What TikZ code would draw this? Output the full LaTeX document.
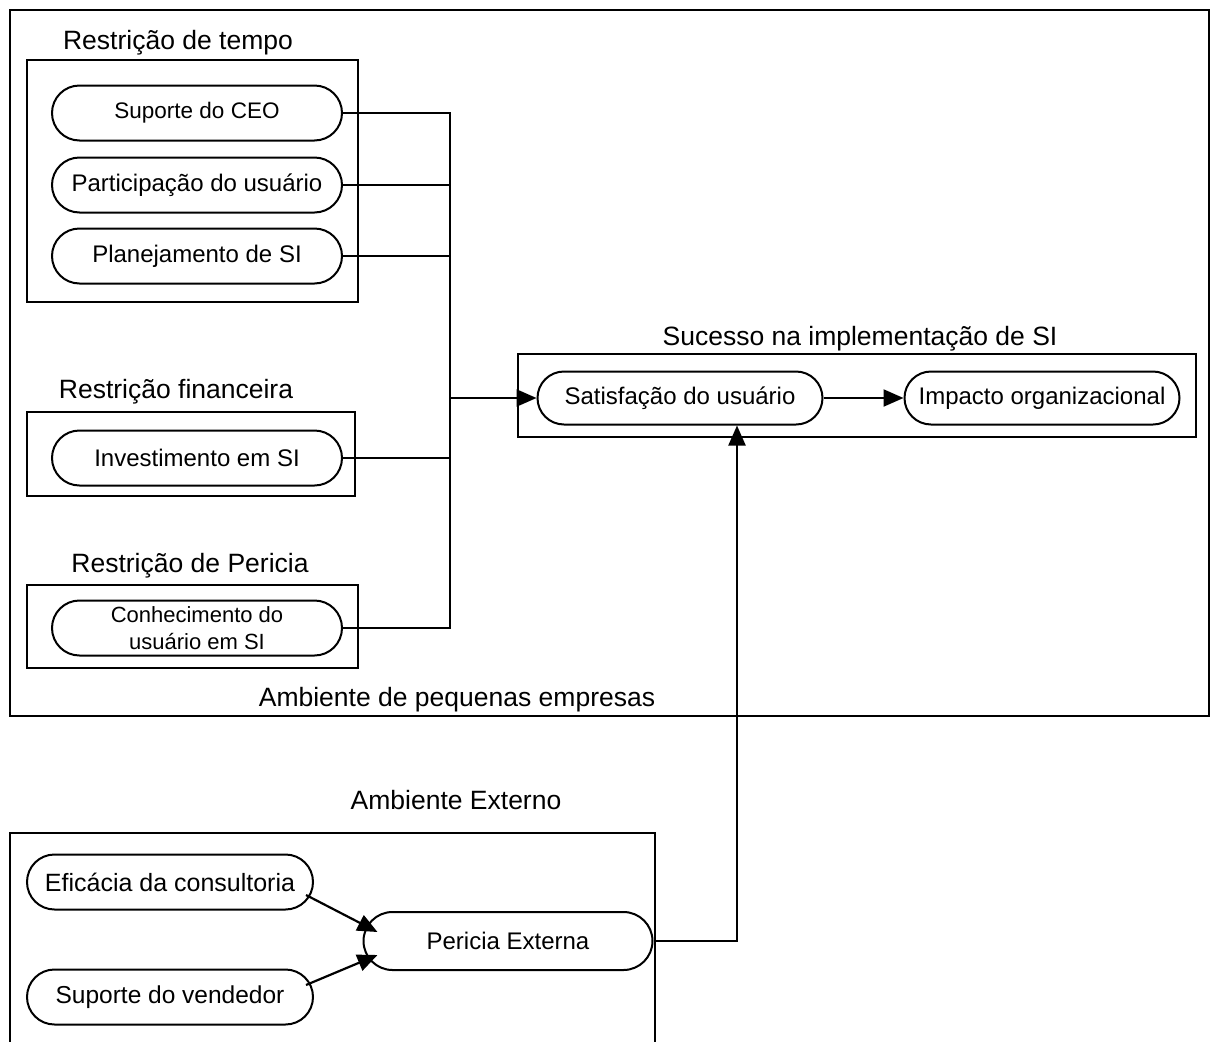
\documentclass[tikz,border=0pt]{standalone}
\usepackage{fontspec}
\setmainfont{Liberation Sans}
\usetikzlibrary{shapes.misc,arrows.meta,calc}
\begin{document}
\begin{tikzpicture}[x=1pt,y=1pt,
  pill/.style={draw, line width=2pt, rounded rectangle, minimum height=55pt, inner sep=0pt,
    font=\fontsize{24}{28}\selectfont, align=center},
  frame/.style={draw, line width=2.8pt},
  title/.style={font=\fontsize{26.5}{30}\selectfont, inner sep=0pt},
  conn/.style={line width=2.2pt},
  arr/.style={line width=2.2pt, -{Triangle[length=20pt,width=17pt]}}
]
\useasboundingbox (0,0) rectangle (1211,-1042);
% frames
\draw[frame] (10,-10) rectangle (1209,-716);
\draw[frame] (27,-60) rectangle (358,-302);
\draw[frame] (27,-412) rectangle (355,-496);
\draw[frame] (27,-585) rectangle (358,-668);
\draw[frame] (518,-354) rectangle (1196,-437);
\draw[frame] (10,-1045) -- (10,-833) -- (655,-833) -- (655,-1045);
% titles
\node[title] (t1) at (178,-43) {Restrição de tempo};
\node[title] (t2) at (176,-392) {Restrição financeira};
\node[title] (t3) at (190,-566) {Restrição de Pericia};
\node[title] (t4) at (860,-339) {Sucesso na implementação de SI};
\node[title] (t5) at (457,-700) {Ambiente de pequenas empresas};
\node[title] (t6) at (456,-800) {Ambiente Externo};
% nodes
\node[pill, minimum width=290pt, font=\fontsize{22.5}{27}\selectfont] (ceo) at (197,-113) {Suporte do CEO};
\node[pill, minimum width=290pt] (part) at (197,-185) {Participação do usuário};
\node[pill, minimum width=290pt] (plan) at (197,-256) {Planejamento de SI};
\node[pill, minimum width=290pt] (inv) at (197,-458) {Investimento em SI};
\node[pill, minimum width=290pt, font=\fontsize{22}{27}\selectfont] (conh) at (197,-628) {Conhecimento do\\usuário em SI};
\node[pill, minimum width=285pt, minimum height=53pt] (sat) at (680,-398) {Satisfação do usuário};
\node[pill, minimum width=275pt, minimum height=53pt] (imp) at (1042,-398) {Impacto organizacional};
\node[pill, minimum width=286pt, font=\fontsize{25}{28}\selectfont] (efic) at (170,-882) {Eficácia da consultoria};
\node[pill, minimum width=286pt, font=\fontsize{24.5}{28}\selectfont] (vend) at (170,-997) {Suporte do vendedor};
\node[pill, minimum width=289pt, minimum height=58pt] (per) at (508,-941) {Pericia Externa};
% connectors
\coordinate (j) at (450,-398);
\draw[conn] (ceo.east) -| (j);
\draw[conn] (part.east) -| (j);
\draw[conn] (plan.east) -| (j);
\draw[conn] (inv.east) -| (j);
\draw[conn] (conh.east) -| (j);
\draw[arr] (j) -- (sat.west);
\draw[arr] (sat.east) -- (imp.west);
\coordinate (tp) at (737,-941);
\draw[arr] (per.east) -- (tp) -- (tp |- sat.south);
\draw[arr] ($(efic.east)+(-8,-13)$) -- ($(per.west)+(15,9)$);
\draw[arr] ($(vend.east)+(-8,12)$) -- ($(per.west)+(15,-14)$);
\end{tikzpicture}
\end{document}
